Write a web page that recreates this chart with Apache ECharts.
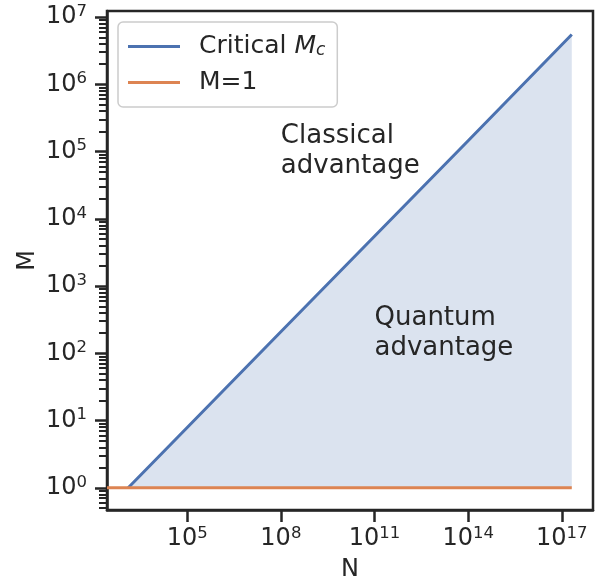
<!DOCTYPE html>
<html>
<head>
<meta charset="utf-8">
<script src="https://cdn.jsdelivr.net/npm/echarts@6/dist/echarts.min.js"></script>
<style>html,body{margin:0;padding:0;background:#fff}#c{width:600px;height:584px}</style>
</head>
<body>
<div id="c"></div>
<script>
// Data (actual values; drawn on log10 scales)
const criticalN = [1.29e3, 1e5, 1e8, 1e11, 1e14, 2.09e17];
const criticalM = [1, 7.9, 209, 5.5e3, 1.45e5, 5.5e6];
const m1N = [2.69e2, 2.09e17];
const m1M = [1, 1];
const xTickExp = [5, 8, 11, 14, 17];
const yTickExp = [0, 1, 2, 3, 4, 5, 6, 7];
const xRangeExp = [2.43, 18.0];
const yRangeExp = [-0.33, 7.09];
const annotations = [
  { text: 'Classical\nadvantage', N: 1e8, M: 1e5 },
  { text: 'Quantum\nadvantage', N: 1e11, M: 200 }
];

const L = Math.log10;
const yMinor = [];
for (let k = -1; k <= 7; k++) {
  for (let m = 2; m <= 9; m++) {
    const v = k + L(m);
    if (v > yRangeExp[0] && v < yRangeExp[1]) yMinor.push(v);
  }
}
const dark = '#262626';
const font = 'DejaVu Sans';
const supRich = {
  b: { fontSize: 24, fontFamily: font, color: dark },
  s: { fontSize: 16.5, fontFamily: font, color: dark, padding: [0, 0, 11, 0] }
};
const supFmt = v => '{b|10}{s|' + Math.round(v) + '}';

const chart = echarts.init(document.getElementById('c'), null, { renderer: 'canvas' });
chart.setOption({
  animation: false,
  textStyle: { fontFamily: font },
  grid: { left: 107, right: 7, top: 11, bottom: 74, containLabel: false, outerBoundsMode: 'none',
    show: true, borderColor: dark, borderWidth: 2.5, backgroundColor: 'transparent' },
  legend: {
    left: 118, top: 22, orient: 'vertical',
    itemWidth: 52, itemHeight: 3, itemGap: 11,
    padding: [12, 12, 12, 10],
    backgroundColor: 'rgba(255,255,255,0.8)', borderColor: '#cccccc', borderWidth: 1.5, borderRadius: 5,
    textStyle: {
      fontSize: 25, fontFamily: font, color: dark, padding: [0, 0, 0, 14],
      rich: {
        t: { fontSize: 25, fontFamily: font, color: dark },
        i: { fontSize: 25, fontFamily: font, fontStyle: 'italic', color: dark },
        c: { fontSize: 17, fontFamily: font, fontStyle: 'italic', color: dark, padding: [8, 0, 0, 0] }
      }
    },
    formatter: n => n === 'Critical Mc' ? '{t|Critical }{i|M}{c|c}' : '{t|M=1}',
    data: [{ name: 'Critical Mc', icon: 'rect' }, { name: 'M=1', icon: 'rect' }]
  },
  xAxis: [{
    type: 'value', min: xRangeExp[0], max: xRangeExp[1],
    name: 'N', nameLocation: 'middle', nameGap: 48, nameMoveOverlap: false,
    nameTextStyle: { fontSize: 24, fontFamily: font, color: dark },
    axisLine: { show: true, onZero: false, lineStyle: { color: dark, width: 2.5 } },
    axisTick: { show: true, length: 12, inside: false, customValues: xTickExp, lineStyle: { color: dark, width: 2.5 } },
    axisLabel: { customValues: xTickExp, margin: 15, formatter: supFmt, rich: supRich },
    splitLine: { show: false }
  }],
  yAxis: [{
    type: 'value', min: yRangeExp[0], max: yRangeExp[1],
    name: 'M', nameLocation: 'middle', nameGap: 67, nameMoveOverlap: false,
    nameTextStyle: { fontSize: 24, fontFamily: font, color: dark },
    axisLine: { show: true, onZero: false, lineStyle: { color: dark, width: 2.5 } },
    axisTick: { show: true, length: 12, customValues: yTickExp, lineStyle: { color: dark, width: 2.5 } },
    axisLabel: { customValues: yTickExp, margin: 20, formatter: supFmt, rich: supRich },
    splitLine: { show: false }
  }, {
    type: 'value', min: yRangeExp[0], max: yRangeExp[1], position: 'left',
    axisLine: { show: false, onZero: false },
    axisTick: { show: true, length: 8, customValues: yMinor, lineStyle: { color: dark, width: 2 } },
    axisLabel: { show: false },
    splitLine: { show: false }
  }],
  series: [{
    name: 'Critical Mc', type: 'line', showSymbol: false, symbol: 'none',
    data: criticalN.map((n, i) => [L(n), L(criticalM[i])]),
    lineStyle: { color: '#4c72b0', width: 3 }, itemStyle: { color: '#4c72b0' },
    areaStyle: { color: 'rgba(76,114,176,0.2)', opacity: 1, origin: 0 },
    z: 2
  }, {
    name: 'M=1', type: 'line', showSymbol: false, symbol: 'none',
    data: m1N.map((n, i) => [L(n), L(m1M[i])]),
    lineStyle: { color: '#dd8452', width: 3 }, itemStyle: { color: '#dd8452' },
    z: 3
  }, {
    name: 'notes', type: 'scatter', symbolSize: 0, silent: true,
    itemStyle: { opacity: 1 },
    data: annotations.map(a => ({ value: [L(a.N), L(a.M)], label: { formatter: a.text } })),
    label: { show: true, position: 'right', distance: 0, align: 'left', verticalAlign: 'middle', opacity: 1,
      fontSize: 26, lineHeight: 30, fontFamily: font, color: dark },
    z: 4
  }]
});
</script>
</body>
</html>
